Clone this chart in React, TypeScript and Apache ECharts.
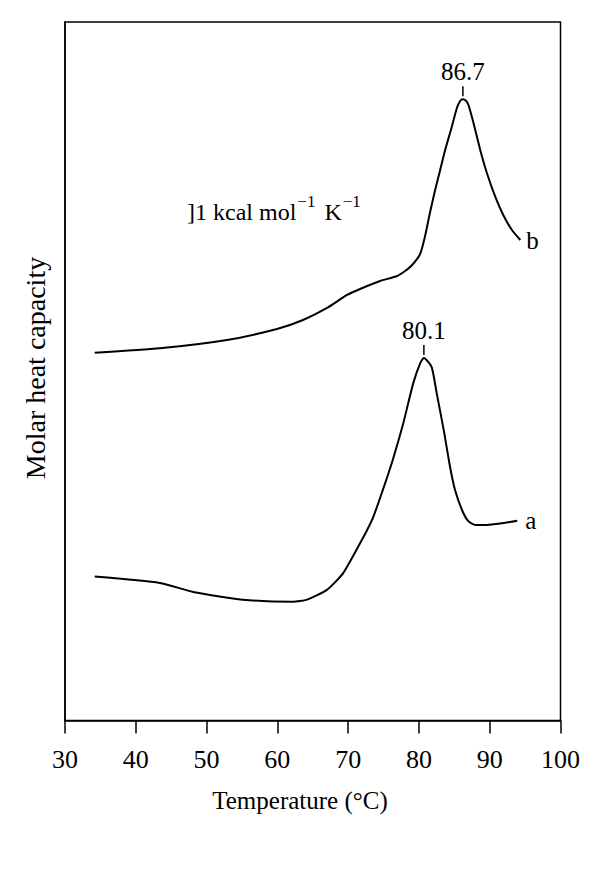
import React, { useEffect, useRef } from 'react';
import * as echarts from 'echarts';

// x axis (temperature, °C)
const xTicks = [30, 40, 50, 60, 70, 80, 90, 100];

// curve b (upper trace), molar heat capacity in arbitrary units
const tempB = [34.2, 43.39, 52.87, 59.94, 63.62, 67.01, 69.84, 71.68, 74.51, 76.92, 78.05, 79.04, 80.17, 80.87, 81.58, 82.29, 83.0, 83.7, 84.65, 85.36, 85.82, 86.21, 86.68, 87.0, 87.71, 88.66, 89.6, 90.78, 91.91, 93.14, 94.32];
const cpB = [52.65, 53.28, 54.47, 56.05, 57.34, 59.06, 60.92, 61.78, 62.92, 63.64, 64.35, 65.21, 66.79, 69.36, 72.8, 75.95, 78.81, 81.67, 85.01, 87.69, 88.69, 88.93, 88.69, 88.12, 85.54, 81.67, 78.38, 74.99, 72.37, 70.22, 68.79];

// curve a (lower trace)
const tempA = [34.2, 43.4, 48.1, 55.1, 62.2, 64.2, 67.0, 69.3, 71.7, 72.7, 73.5, 74.9, 76.3, 77.8, 79.2, 80.2, 80.7, 81.8, 82.5, 83.5, 84.4, 85.1, 86.1, 87.0, 88.0, 89.6, 91.5, 93.9];
const cpA = [20.6, 19.7, 18.4, 17.3, 17.0, 17.3, 18.7, 21.1, 25.4, 27.3, 29.0, 33.0, 37.3, 42.6, 48.3, 51.2, 51.9, 50.6, 46.9, 41.6, 36.3, 33.0, 30.1, 28.5, 28.0, 28.0, 28.2, 28.6];

const curveNames = ['a', 'b'];
const peakLabels = ['80.1', '86.7'];
const peakTemps = [80.7, 86.21];
const peakValues = [51.9, 88.93];

const xTitle = 'Temperature (°C)';
const yTitle = 'Molar heat capacity';

const FONT = '"Liberation Serif", "Times New Roman", serif';

export default function App() {
  const ref = useRef<HTMLDivElement>(null);

  useEffect(() => {
    const chart = echarts.init(ref.current!, null, { renderer: 'svg' });

    const mkSeries = (idx: number, xs: number[], ys: number[], endDist: number) => ({
      type: 'line',
      name: curveNames[idx],
      data: xs.map((x, i) => [x, ys[i]]),
      showSymbol: false,
      smooth: 0.2,
      lineStyle: { color: '#000', width: 2 },
      itemStyle: { color: '#000' },
      endLabel: {
        show: true,
        formatter: curveNames[idx],
        distance: endDist,
        fontSize: 25,
        fontFamily: FONT,
        color: '#000',
      },
      markPoint: {
        symbol: 'rect',
        symbolSize: [1.5, 10],
        symbolOffset: [0, -8],
        itemStyle: { color: '#000' },
        label: {
          show: true,
          position: 'top',
          distance: 2,
          formatter: peakLabels[idx],
          fontSize: 25,
          fontFamily: FONT,
          color: '#000',
        },
        data: [{ coord: [peakTemps[idx], peakValues[idx]], name: peakLabels[idx] }],
      },
    });

    chart.setOption({
      animation: false,
      backgroundColor: '#fff',
      grid: {
        left: 65,
        right: 39.5,
        top: 22,
        bottom: 157.5,
        show: true,
        borderColor: '#000',
        borderWidth: 1.5,
      },
      xAxis: {
        type: 'value',
        min: xTicks[0],
        max: xTicks[xTicks.length - 1],
        interval: 10,
        axisLine: { show: true, lineStyle: { color: '#000', width: 1.5 } },
        axisTick: { show: true, inside: false, length: 13, lineStyle: { color: '#000', width: 1.5 } },
        axisLabel: { fontSize: 26, fontFamily: FONT, color: '#000', margin: 26 },
        splitLine: { show: false },
      },
      yAxis: {
        type: 'value',
        min: 0,
        max: 100,
        axisLine: { show: true, lineStyle: { color: '#000', width: 1.5 } },
        axisTick: { show: false },
        axisLabel: { show: false },
        splitLine: { show: false },
      },
      series: [mkSeries(0, tempA, cpA, 8), mkSeries(1, tempB, cpB, 6)],
      graphic: [
        {
          type: 'text',
          x: 300,
          y: 800,
          style: { text: xTitle, fontSize: 25, fontFamily: FONT, fill: '#000', align: 'center', verticalAlign: 'middle' },
        },
        {
          type: 'text',
          x: 35,
          y: 368,
          rotation: Math.PI / 2,
          style: { text: yTitle, fontSize: 28, fontFamily: FONT, fill: '#000', align: 'center', verticalAlign: 'middle' },
        },
        {
          type: 'text',
          x: 187,
          y: 212,
          style: {
            text: '{m|]1 kcal mol}{s|−1}{k|K}{s|−1}',
            fontFamily: FONT,
            fill: '#000',
            verticalAlign: 'middle',
            rich: {
              m: { fontSize: 24, fontFamily: FONT, fill: '#000' },
              k: { fontSize: 24, fontFamily: FONT, fill: '#000', padding: [0, 0, 0, 9] },
              s: { fontSize: 17, fontFamily: FONT, fill: '#000', padding: [0, 0, 22, 1] },
            },
          },
        },
      ],
    });

    return () => chart.dispose();
  }, []);

  return <div ref={ref} style={{ position: 'fixed', left: 0, top: 0, width: 600, height: 878 }} />;
}
